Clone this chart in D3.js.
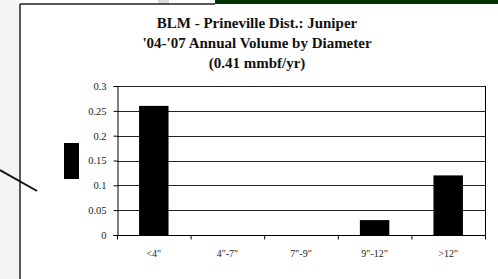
<!DOCTYPE html>
<html>
<head>
<meta charset="utf-8">
<script src="https://cdn.jsdelivr.net/npm/d3@7"></script>
<style>
  body { margin: 0; background: #fff; }
  svg { display: block; }
</style>
</head>
<body>
<svg id="chart" width="498" height="279"></svg>
<script>
const categories = ['<4"', '4"-7"', '7"-9"', '9"-12"', '>12"']
const volumes = [0.26, 0, 0, 0.03, 0.12]
const yTicks = [0, 0.05, 0.1, 0.15, 0.2, 0.25, 0.3]
const yTickLabels = ['0', '0.05', '0.1', '0.15', '0.2', '0.25', '0.3']
const titleLines = [
  'BLM - Prineville Dist.: Juniper',
  "'04-'07 Annual Volume by Diameter",
  '(0.41 mmbf/yr)'
]

const svg = d3.select('#chart')
const plot = { left: 117, right: 485, top: 86, bottom: 235 }
const serif = '"Liberation Serif", "Times New Roman", serif'

// slide background bits around the chart frame
svg.append('rect').attr('x', 0).attr('y', 0).attr('width', 20).attr('height', 279).attr('fill', '#f4f4f4')
svg.append('rect').attr('x', 158).attr('y', 0).attr('width', 11).attr('height', 4).attr('fill', '#dcdcdc')
svg.append('rect').attr('x', 215).attr('y', 0).attr('width', 283).attr('height', 5).attr('fill', '#003300')
svg.append('rect').attr('x', 20).attr('y', 4).attr('width', 478).attr('height', 275).attr('fill', '#fff')

// frame
svg.append('line').attr('x1', 20).attr('y1', 4).attr('x2', 215).attr('y2', 4)
  .attr('stroke', '#222').attr('stroke-width', 1.5)
svg.append('line').attr('x1', 20).attr('y1', 4).attr('x2', 20).attr('y2', 279)
  .attr('stroke', '#222').attr('stroke-width', 1.5)

// callout line and stray marker
svg.append('line').attr('x1', 0).attr('y1', 170).attr('x2', 37).attr('y2', 191)
  .attr('stroke', '#111').attr('stroke-width', 2)
svg.append('rect').attr('x', 64).attr('y', 143).attr('width', 15).attr('height', 36).attr('fill', '#000')

const x = d3.scaleBand()
  .domain(categories)
  .range([plot.left, plot.right])
  .paddingInner(0.6)
  .paddingOuter(0.3)

const xTick = d3.scaleBand().domain(categories).range([plot.left, plot.right])

const y = d3.scaleLinear()
  .domain([0, 0.3])
  .range([plot.bottom, plot.top])

// gridlines
svg.append('g')
  .selectAll('line')
  .data(yTicks.slice(1))
  .enter()
  .append('line')
  .attr('x1', plot.left)
  .attr('x2', plot.right)
  .attr('y1', d => Math.round(y(d)) + 0.5)
  .attr('y2', d => Math.round(y(d)) + 0.5)
  .attr('stroke', '#222')
  .attr('stroke-width', 1)

// right border
svg.append('line')
  .attr('x1', plot.right + 0.5).attr('x2', plot.right + 0.5)
  .attr('y1', plot.top).attr('y2', plot.bottom)
  .attr('stroke', '#000')

// bars
svg.append('g')
  .selectAll('rect')
  .data(volumes)
  .enter()
  .append('rect')
  .attr('x', (d, i) => x(categories[i]))
  .attr('y', d => y(d))
  .attr('width', x.bandwidth())
  .attr('height', d => y(0) - y(d))
  .attr('fill', '#000')

// y axis
const yAxis = d3.axisLeft(y)
  .tickValues(yTicks)
  .tickFormat((d, i) => yTickLabels[i])
  .tickSize(4)
  .tickPadding(7)

const gy = svg.append('g')
  .attr('transform', `translate(${plot.left + 0.5},0)`)
  .call(yAxis)
gy.select('.domain').attr('stroke', '#000')
gy.selectAll('.tick line').attr('stroke', '#000')
gy.selectAll('text')
  .attr('font-family', serif)
  .attr('font-size', 10.5)
  .attr('fill', '#222')

// x axis
const gx = svg.append('g')
  .attr('transform', `translate(0,${plot.bottom + 0.5})`)
gx.append('line')
  .attr('x1', plot.left).attr('x2', plot.right + 1)
  .attr('stroke', '#000')
gx.selectAll('.tk')
  .data(categories.concat(['end']))
  .enter()
  .append('line')
  .attr('x1', (d, i) => plot.left + i * xTick.bandwidth() + 0.5)
  .attr('x2', (d, i) => plot.left + i * xTick.bandwidth() + 0.5)
  .attr('y1', 0)
  .attr('y2', 4)
  .attr('stroke', '#000')
gx.selectAll('text')
  .data(categories)
  .enter()
  .append('text')
  .attr('x', d => xTick(d) + xTick.bandwidth() / 2)
  .attr('y', 21)
  .attr('text-anchor', 'middle')
  .attr('font-family', serif)
  .attr('font-size', 10)
  .attr('fill', '#222')
  .text(d => d)

// title
svg.append('g')
  .selectAll('text')
  .data(titleLines)
  .enter()
  .append('text')
  .attr('x', 257)
  .attr('y', (d, i) => 28 + i * 20)
  .attr('text-anchor', 'middle')
  .attr('font-family', serif)
  .attr('font-weight', 'bold')
  .attr('font-size', 15)
  .attr('fill', '#111')
  .text(d => d)
</script>
</body>
</html>
